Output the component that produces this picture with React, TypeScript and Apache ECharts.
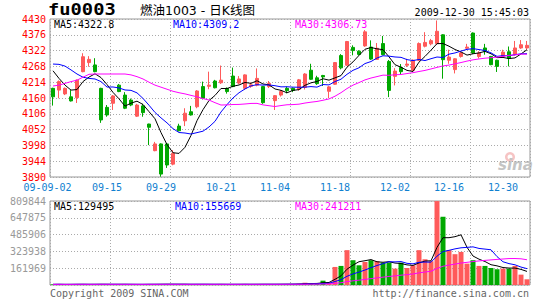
import React, { useEffect, useRef } from "react";
import * as echarts from "echarts";

// ---- data ----
const opens = [
  4193, 4187, 4174, 4164, 4161, 4250, 4281, 4273, 4193, 4128,
  4142, 4204, 4170, 4153, 4098, 4133, 4071, 3980, 4003, 4003,
  3934, 4064, 4082, 4113, 4130, 4199, 4200, 4218, 4212, 4193,
  4235, 4211, 4193, 4200, 4204, 4199, 4199, 4151, 4170, 4193,
  4193, 4190, 4196, 4255, 4229, 4237, 4183, 4207, 4305, 4272,
  4333, 4320, 4338, 4334, 4292, 4346, 4285, 4234, 4264, 4272,
  4255, 4289, 4337, 4345, 4346, 4376, 4289, 4257, 4302, 4330,
  4382, 4302, 4331, 4302, 4289, 4302, 4318, 4308, 4331, 4331,
];
const closes = [
  4164, 4216, 4193, 4150, 4221, 4301, 4292, 4250, 4085, 4102,
  4167, 4182, 4125, 4136, 4136, 4110, 4060, 4003, 3900, 3931,
  3971, 4048, 4108, 4102, 4184, 4159, 4204, 4195, 4221, 4182,
  4199, 4225, 4239, 4205, 4227, 4144, 4210, 4168, 4182, 4185,
  4186, 4222, 4242, 4224, 4209, 4232, 4198, 4281, 4263, 4353,
  4322, 4309, 4386, 4293, 4330, 4308, 4186, 4252, 4250, 4276,
  4289, 4346, 4350, 4356, 4388, 4291, 4300, 4294, 4314, 4334,
  4314, 4314, 4320, 4274, 4268, 4317, 4295, 4331, 4342, 4340,
];
const lows = [
  4134, 4159, 4170, 4148, 4143, 4248, 4267, 4248, 4075, 4096,
  4119, 4180, 4122, 4132, 4095, 4096, 3999, 3978, 3891, 3921,
  3930, 4046, 4064, 4100, 4125, 4155, 4190, 4193, 4208, 4175,
  4197, 4207, 4188, 4195, 4200, 4140, 4194, 4119, 4165, 4176,
  4180, 4185, 4189, 4222, 4205, 4201, 4160, 4205, 4258, 4270,
  4306, 4305, 4335, 4290, 4290, 4306, 4163, 4203, 4240, 4266,
  4250, 4286, 4333, 4340, 4342, 4226, 4277, 4244, 4298, 4325,
  4310, 4295, 4308, 4272, 4249, 4300, 4268, 4305, 4328, 4325,
];
const highs = [
  4195, 4220, 4196, 4187, 4223, 4313, 4303, 4296, 4195, 4136,
  4170, 4208, 4180, 4158, 4140, 4140, 4072, 4010, 4005, 4005,
  3982, 4072, 4125, 4133, 4187, 4216, 4250, 4222, 4271, 4196,
  4264, 4235, 4241, 4213, 4261, 4201, 4218, 4170, 4187, 4199,
  4196, 4225, 4245, 4277, 4236, 4239, 4201, 4283, 4310, 4355,
  4340, 4323, 4392, 4357, 4348, 4372, 4290, 4262, 4276, 4294,
  4292, 4350, 4385, 4362, 4425, 4378, 4325, 4296, 4320, 4345,
  4384, 4320, 4345, 4304, 4291, 4325, 4336, 4355, 4358, 4355,
];
const volumes = [
  6000, 7000, 5000, 6500, 8000, 7500, 5000, 6000, 9000, 7000,
  6000, 5500, 7000, 6000, 5000, 6500, 8000, 7000, 9500, 8000,
  6000, 7000, 6500, 5000, 8000, 7000, 6000, 5500, 7500, 6000,
  7000, 6500, 8000, 5500, 7000, 9000, 6000, 7500, 8000, 9000,
  10000, 12000, 22000, 16000, 16000, 42000, 26000, 174000, 184000, 336000,
  239000, 190000, 222000, 239000, 229000, 216000, 216000, 158000, 216000, 164000,
  190000, 336000, 248000, 229000, 809000, 658000, 336000, 297000, 319000, 206000,
  239000, 184000, 184000, 164000, 152000, 158000, 158000, 184000, 100000, 55000,
];
// moving-average values before enough in-window closes exist
const ma5Head = [4253, 4227, 4204, 4187];
const ma10Head = [4276, 4275, 4269, 4256, 4242, 4231, 4227, 4225, 4216];
const ma30Head = [
  4201, 4204, 4210, 4216, 4221, 4231, 4241, 4242, 4242, 4242,
  4242, 4242, 4242, 4239, 4233, 4225, 4214, 4204, 4197, 4190,
  4183, 4178, 4174, 4169, 4164, 4158, 4153, 4144, 4136,
];

const xTickIndex = [0, 9, 18, 28, 37, 47, 57, 66, 75];
const xTickText = ["09-09-02", "09-15", "09-29", "10-21", "11-04", "11-18", "12-02", "12-16", "12-30"];
const priceMin = 3890;
const priceMax = 4430;
const priceStep = 54;
const volMax = 809844;

const titleCode = "fu0003";
const titleName = "燃油1003 - 日K线图";
const timeStamp = "2009-12-30 15:45:03";
const priceMaLabels = ["MA5:4322.8", "MA10:4309.2", "MA30:4306.73"];
const volMaLabels = ["MA5:129495", "MA10:155669", "MA30:241211"];
const footLeft = "Copyright 2009 SINA.COM";
const footRight = "http://finance.sina.com.cn";

// ---- styles ----
const RED = "#ff5a5a";
const GREEN = "#00a800";
const MONO = '"DejaVu Sans Mono", "Liberation Mono", monospace';
const GRIDLINE = { color: "#aaaaaa", type: [1, 2] as number[], width: 1 };
const MA_COLORS = ["#000000", "#0000ff", "#ff00ff"];

function maWithHead(values: number[], n: number, head: number[]) {
  return values.map((_, i) => {
    if (i < head.length) return head[i];
    let s = 0;
    for (let k = i - n + 1; k <= i; k++) s += values[k];
    return +(s / n).toFixed(2);
  });
}
function maPartial(values: number[], n: number) {
  return values.map((_, i) => {
    const from = Math.max(0, i - n + 1);
    let s = 0;
    for (let k = from; k <= i; k++) s += values[k];
    return Math.round(s / (i - from + 1));
  });
}

export default function App() {
  const ref = useRef<HTMLDivElement>(null);
  useEffect(() => {
    document.body.style.margin = "0";
    if (!ref.current) return;
    const chart = echarts.init(ref.current, undefined, { renderer: "svg" });
    const cats = closes.map((_, i) => String(i));
    const candle = closes.map((c, i) => [opens[i], c, lows[i], highs[i]]);
    const vol = volumes.map((v, i) => ({
      value: v,
      itemStyle: { color: closes[i] >= opens[i] ? RED : GREEN },
    }));
    const pMA = [maWithHead(closes, 5, ma5Head), maWithHead(closes, 10, ma10Head), maWithHead(closes, 30, ma30Head)];
    const vMA = [maPartial(volumes, 5), maPartial(volumes, 10), maPartial(volumes, 30)];

    const txt = (text: string, x: number, y: number, fill: string, font: string, align = "left", extra: any = {}) => ({
      type: "text",
      x,
      y,
      silent: true,
      ...extra,
      style: { text, fill, font, align, verticalAlign: "middle", textAlign: align, textVerticalAlign: "middle" },
    });

    const xLabelRich = {
      first: { padding: [0, 11, 0, 0], color: "#1080d0", fontFamily: MONO, fontSize: 10 },
    };

    const option: any = {
      animation: false,
      backgroundColor: "#ffffff",
      grid: [
        { left: 50, top: 19, width: 480, height: 158, show: true, borderColor: "#999", borderWidth: 1 },
        { left: 50, top: 201, width: 480, height: 84, show: true, borderColor: "#999", borderWidth: 1 },
      ],
      xAxis: [
        {
          type: "category",
          gridIndex: 0,
          data: cats,
          boundaryGap: true,
          axisLine: { show: false },
          axisTick: { show: false },
          axisLabel: {
            interval: (i: number) => xTickIndex.indexOf(i) >= 0,
            formatter: (_v: string, i: number) => {
              const k = xTickIndex.indexOf(i);
              if (k < 0) return "";
              return k === 0 ? `{first|${xTickText[k]}}` : xTickText[k];
            },
            rich: xLabelRich,
            color: "#1080d0",
            fontFamily: MONO,
            fontSize: 10,
            margin: 5,
          },
          splitLine: { show: true, interval: 9, lineStyle: GRIDLINE },
        },
        {
          type: "category",
          gridIndex: 1,
          data: cats,
          boundaryGap: true,
          axisLine: { show: false },
          axisTick: { show: false },
          axisLabel: { show: false },
          splitLine: { show: true, interval: 9, lineStyle: GRIDLINE },
        },
      ],
      yAxis: [
        {
          type: "value",
          gridIndex: 0,
          min: priceMin,
          max: priceMax,
          interval: priceStep,
          axisLine: { show: false },
          axisTick: { show: false },
          axisLabel: {
            color: "#ff0000",
            fontFamily: MONO,
            fontSize: 10,
            margin: 4,
            formatter: (v: number) => String(Math.round(v)),
          },
          splitLine: { show: true, lineStyle: GRIDLINE },
        },
        {
          type: "value",
          gridIndex: 1,
          min: 0,
          max: volMax,
          interval: volMax / 5,
          axisLine: { show: false },
          axisTick: { show: false },
          axisLabel: {
            color: "#999999",
            fontFamily: MONO,
            fontSize: 10,
            margin: 4,
            showMinLabel: false,
            formatter: (v: number) => String(Math.round(v)),
          },
          splitLine: { show: true, lineStyle: GRIDLINE },
        },
      ],
      series: [
        {
          type: "candlestick",
          xAxisIndex: 0,
          yAxisIndex: 0,
          data: candle,
          barWidth: 4,
          itemStyle: { color: RED, color0: GREEN, borderColor: RED, borderColor0: GREEN, borderWidth: 1 },
          silent: true,
        },
        ...pMA.map((d, k) => ({
          type: "line",
          xAxisIndex: 0,
          yAxisIndex: 0,
          data: d,
          symbol: "none",
          silent: true,
          lineStyle: { color: MA_COLORS[k], width: 1 },
        })),
        {
          type: "bar",
          xAxisIndex: 1,
          yAxisIndex: 1,
          data: vol,
          barWidth: 5,
          silent: true,
        },
        ...vMA.map((d, k) => ({
          type: "line",
          xAxisIndex: 1,
          yAxisIndex: 1,
          data: d,
          symbol: "none",
          silent: true,
          lineStyle: { color: MA_COLORS[k], width: 1 },
        })),
      ],
      graphic: [
        txt(titleName, 140, 10, "#000", '12.5px "DejaVu Sans", "Noto Sans CJK SC", sans-serif'),
        txt(timeStamp, 529, 12, "#000", `10px ${MONO}`, "right"),
        txt(priceMaLabels[0], 54, 24, MA_COLORS[0], `10px ${MONO}`),
        txt(priceMaLabels[1], 173, 24, MA_COLORS[1], `10px ${MONO}`),
        txt(priceMaLabels[2], 295, 24, MA_COLORS[2], `10px ${MONO}`),
        txt(volMaLabels[0], 54, 206, MA_COLORS[0], `10px ${MONO}`),
        txt(volMaLabels[1], 175, 206, MA_COLORS[1], `10px ${MONO}`),
        txt(volMaLabels[2], 295, 206, MA_COLORS[2], `10px ${MONO}`),
        txt(footLeft, 50, 293, "#666666", `10px ${MONO}`),
        txt(footRight, 529, 293, "#666666", `10px ${MONO}`, "right"),
        txt(titleCode, 48, 10, "#000", `bold 15px ${MONO}`, "left", { scaleX: 1.25 }),
        {
          type: "ring",
          silent: true,
          shape: { cx: 510, cy: 157, r: 5, r0: 2.5 },
          style: { fill: "#f6c4c4" },
        },
        txt("sina", 498, 165, "#c4c4c4", 'italic bold 15px "DejaVu Sans", sans-serif'),
      ],
    };
    chart.setOption(option);
    return () => chart.dispose();
  }, []);
  return <div ref={ref} style={{ width: 545, height: 300 }} />;
}
